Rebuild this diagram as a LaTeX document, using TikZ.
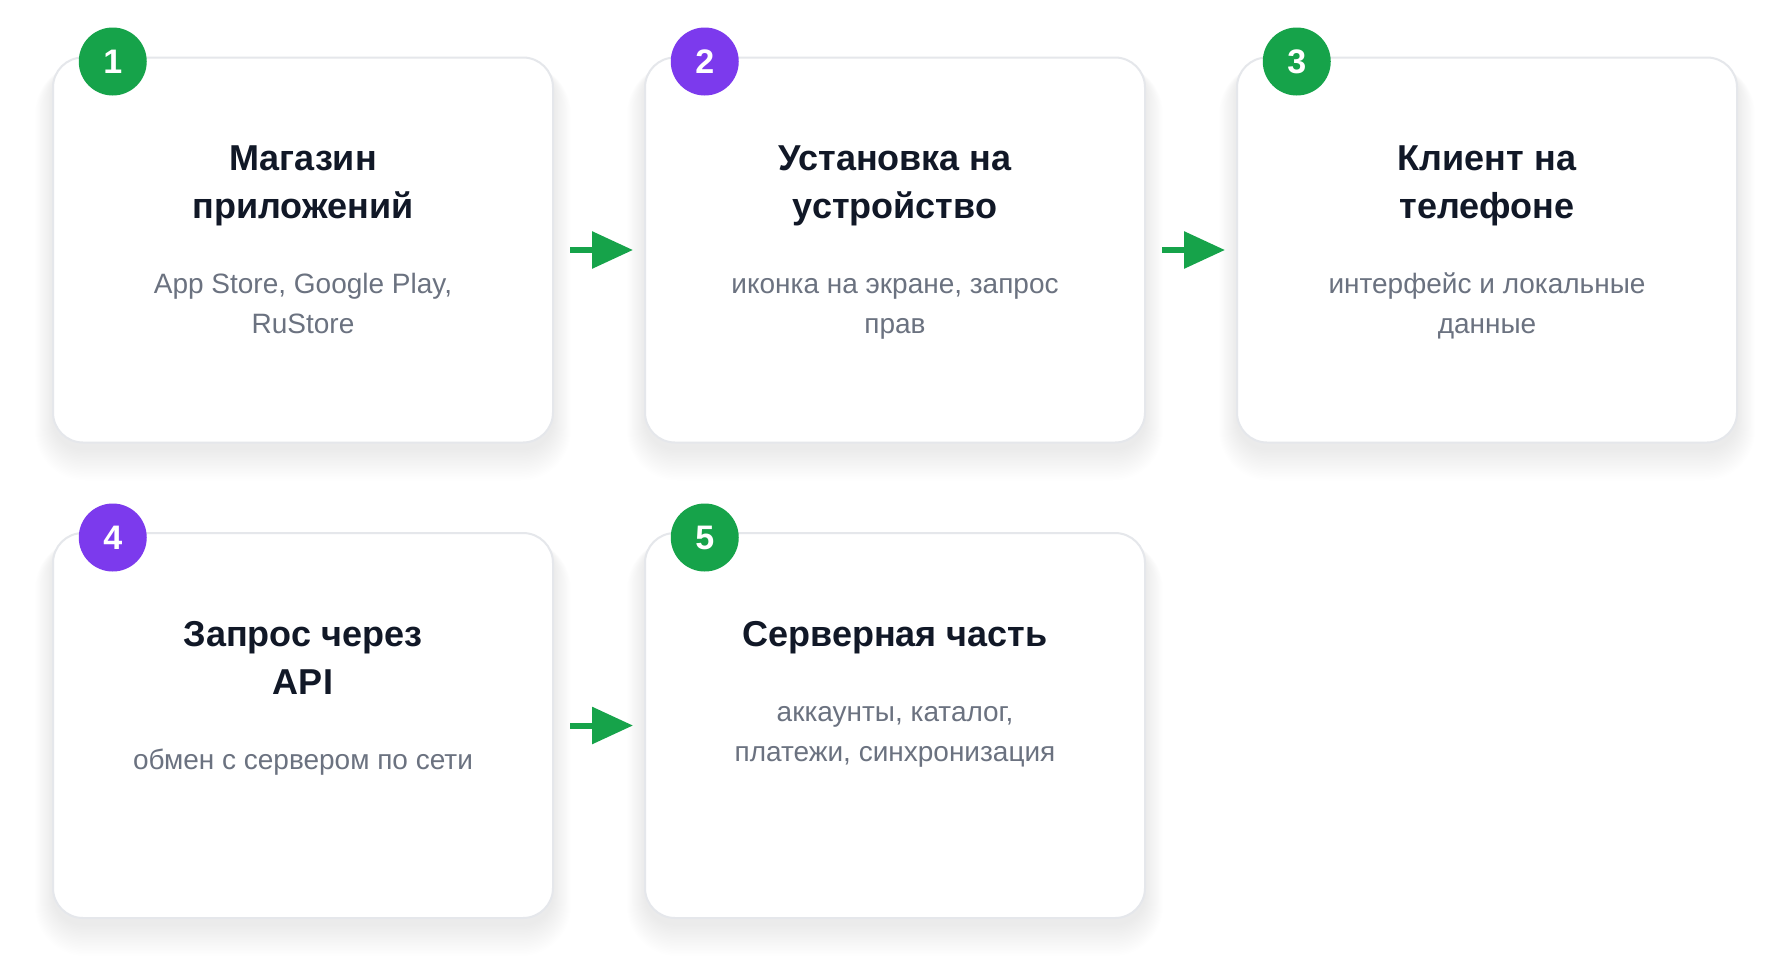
\documentclass[tikz,border=0pt]{standalone}
\usepackage{fontspec}
\setmainfont{Liberation Sans}
\usetikzlibrary{arrows.meta}
\definecolor{cgreen}{HTML}{16A34A}
\definecolor{cpurple}{HTML}{7C3AED}
\definecolor{ctitle}{HTML}{111827}
\definecolor{csub}{HTML}{6B7280}
\definecolor{cborder}{HTML}{E5E7EB}
\definecolor{cshadow}{HTML}{1E2A4A}
\tikzset{
  card/.style={draw=cborder, line width=2pt, fill=white, rounded corners=30pt,
    minimum width=500pt, minimum height=385pt, inner sep=0pt},
  badge/.style={circle, minimum size=68pt, inner sep=0pt, text=white,
    font=\fontsize{34}{34}\selectfont\bfseries},
  ttl/.style={anchor=base, text=ctitle, inner sep=0pt,
    font=\fontsize{36}{48}\selectfont\bfseries},
  sub/.style={anchor=base, text=csub, inner sep=0pt,
    font=\fontsize{28}{40}\selectfont},
  flow/.style={draw=cgreen, line width=6pt, shorten <=16pt, shorten >=11pt,
    -{Triangle[length=41pt,width=36pt]}},
}
\newcommand{\cardshadow}[2]{%
  \foreach \k in {1,...,20}{%
    \fill[cshadow, opacity=0.0045, rounded corners=30pt+\k pt]
      (#1-\k*0.9, #2+6) rectangle (#1+500+\k*0.9, #2+385+6+\k*1.6);
  }%
}
\begin{document}
\begin{tikzpicture}[x=1pt,y=-1pt]
\useasboundingbox (0,0) rectangle (1790,977);
\fill[white] (0,0) rectangle (1790,977);
% shadows
\cardshadow{53}{57.5}
\cardshadow{645}{57.5}
\cardshadow{1237}{57.5}
\cardshadow{53}{533}
\cardshadow{645}{533}
% cards
\node[card] (c1) at (303,250) {};
\node[card] (c2) at (895,250) {};
\node[card] (c3) at (1487,250) {};
\node[card] (c4) at (303,725.5) {};
\node[card] (c5) at (895,725.5) {};
% badges
\node[badge, fill=cgreen] (b1) at (112.75,61.5) {1};
\node[badge, fill=cpurple] (b2) at (704.75,61.5) {2};
\node[badge, fill=cgreen] (b3) at (1296.75,61.5) {3};
\node[badge, fill=cpurple] (b4) at (112.75,537.5) {4};
\node[badge, fill=cgreen] (b5) at (704.75,537.5) {5};
% card 1
\node[ttl] (t1a) at (303,170) {Магазин};
\node[ttl] (t1b) at (303,218) {приложений};
\node[sub] (s1a) at (303,293) {App Store, Google Play,};
\node[sub] (s1b) at (303,333) {RuStore};
% card 2
\node[ttl] (t2a) at (895,170) {Установка на};
\node[ttl] (t2b) at (895,218) {устройство};
\node[sub] (s2a) at (895,293) {иконка на экране, запрос};
\node[sub] (s2b) at (895,333) {прав};
% card 3
\node[ttl] (t3a) at (1487,170) {Клиент на};
\node[ttl] (t3b) at (1487,218) {телефоне};
\node[sub] (s3a) at (1487,293) {интерфейс и локальные};
\node[sub] (s3b) at (1487,333) {данные};
% card 4
\node[ttl] (t4a) at (303,646) {Запрос через};
\node[ttl] (t4b) at (303,694) {API};
\node[sub] (s4a) at (303,769) {обмен с сервером по сети};
% card 5
\node[ttl] (t5a) at (895,646) {Серверная часть};
\node[sub] (s5a) at (895,721) {аккаунты, каталог,};
\node[sub] (s5b) at (895,761) {платежи, синхронизация};
% arrows
\draw[flow] (c1.east) -- (c2.west);
\draw[flow] (c2.east) -- (c3.west);
\draw[flow] (c4.east) -- (c5.west);
\end{tikzpicture}
\end{document}
